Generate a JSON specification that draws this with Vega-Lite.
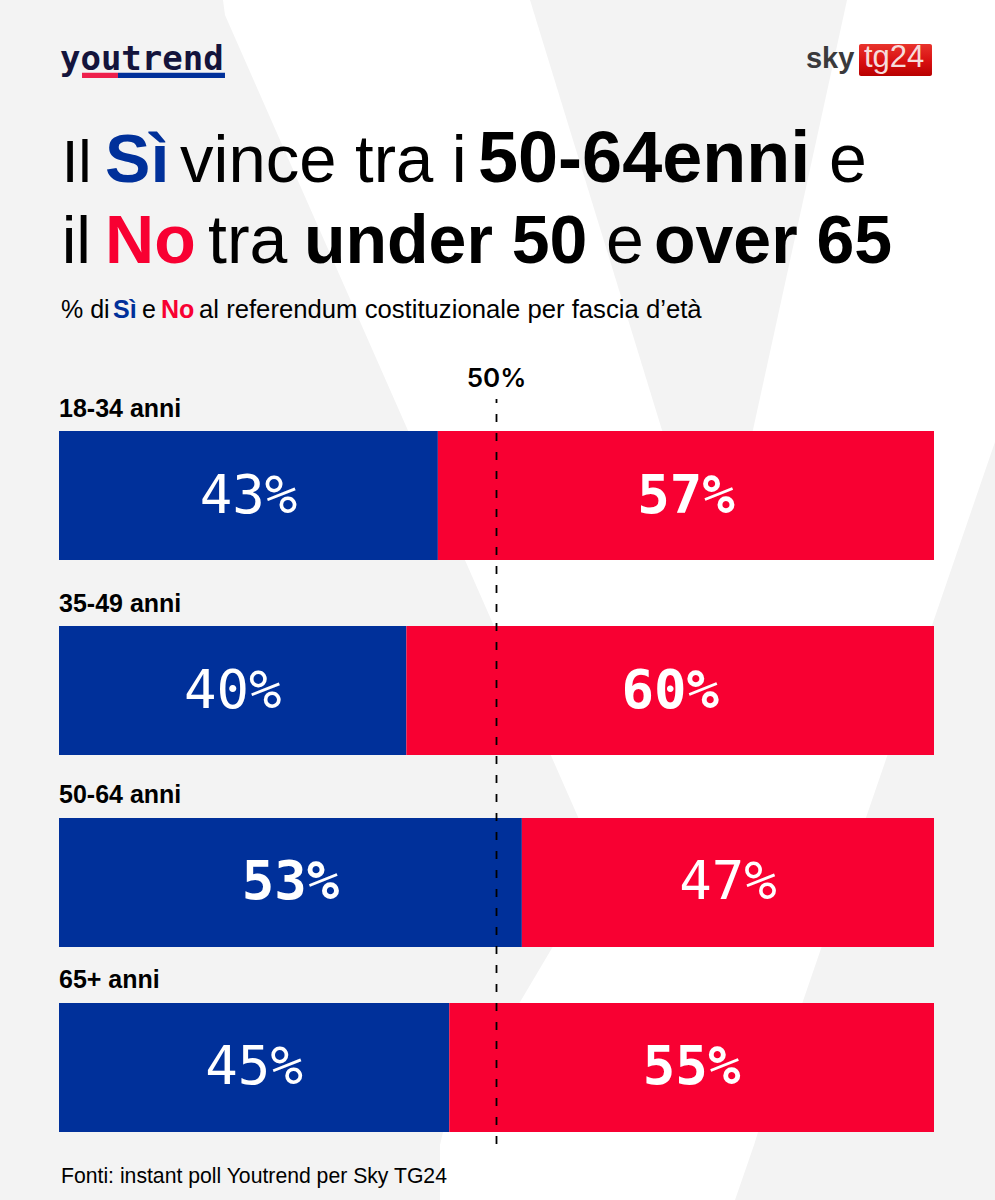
{
  "$schema": "https://vega.github.io/schema/vega-lite/v6.json",
  "description": "Il Si vince tra i 50-64enni e il No tra under 50 e over 65",
  "width": 995,
  "height": 1200,
  "autosize": {"type": "fit", "contains": "padding"},
  "padding": 0,
  "background": "#f3f3f3",
  "config": {"view": {"stroke": null}, "axis": {"disable": true}, "text": {"baseline": "alphabetic"}},
  "params": [
    {"name": "scarto", "expr": "{'18-34 anni': -1.7, '35-49 anni': 2.1, '50-64 anni': 2.9, '65+ anni': -3.3}"}
  ],
  "resolve": {"scale": {"y": "independent"}},
  "layer": [
    {
      "layer": [
        {
          "data": {"values": [
            {"y": 0, "da": 18.74, "a": 106.97},
            {"y": 15, "da": 18.97, "a": 106.97},
            {"y": 442, "da": 40.46, "a": 106.97},
            {"y": 867, "da": 61.83, "a": 90.29},
            {"y": 1132, "da": 43.89, "a": 79.89},
            {"y": 1145, "da": 43.54, "a": 79.43},
            {"y": 1200, "da": 43.54, "a": 77.26}
          ]},
          "mark": {"type": "area", "orient": "horizontal", "color": "#ffffff"},
          "encoding": {
            "x": {"field": "da", "type": "quantitative", "scale": {"domain": [0, 100], "range": [59, 934]}},
            "x2": {"field": "a"},
            "y": {"field": "y", "type": "quantitative", "scale": {"domain": [0, 1200], "range": [0, 1200]}}
          }
        },
        {
          "data": {"values": [
            {"y": 0, "da": 53.83, "a": 90.06},
            {"y": 430, "da": 68.91, "a": 79.31},
            {"y": 555, "da": 74.9, "a": 74.9}
          ]},
          "mark": {"type": "area", "orient": "horizontal", "color": "#f3f3f3"},
          "encoding": {
            "x": {"field": "da", "type": "quantitative"},
            "x2": {"field": "a"},
            "y": {"field": "y", "type": "quantitative"}
          }
        }
      ]
    },
    {
      "data": {"values": [
        {"fascia": "18-34 anni", "risposta": "Sì", "valore": 43.3, "etichetta": "43%"},
        {"fascia": "18-34 anni", "risposta": "No", "valore": 56.7, "etichetta": "57%"},
        {"fascia": "35-49 anni", "risposta": "Sì", "valore": 39.7, "etichetta": "40%"},
        {"fascia": "35-49 anni", "risposta": "No", "valore": 60.3, "etichetta": "60%"},
        {"fascia": "50-64 anni", "risposta": "Sì", "valore": 52.9, "etichetta": "53%"},
        {"fascia": "50-64 anni", "risposta": "No", "valore": 47.1, "etichetta": "47%"},
        {"fascia": "65+ anni", "risposta": "Sì", "valore": 44.6, "etichetta": "45%"},
        {"fascia": "65+ anni", "risposta": "No", "valore": 55.4, "etichetta": "55%"}
      ]},
      "transform": [
        {"stack": "valore", "groupby": ["fascia"], "sort": [{"field": "risposta", "order": "descending"}], "as": ["inizio", "fine"]},
        {"calculate": "(datum.inizio + datum.fine) / 2", "as": "centro"}
      ],
      "layer": [
        {
          "mark": {"type": "bar", "yOffset": {"expr": "scarto[datum.fascia]"}},
          "encoding": {
            "x": {"field": "inizio", "type": "quantitative"},
            "x2": {"field": "fine"},
            "y": {
              "field": "fascia",
              "type": "nominal",
              "sort": null,
              "scale": {"range": [432.7, 1135.3], "paddingInner": 0.325, "paddingOuter": 0}
            },
            "color": {
              "field": "risposta",
              "type": "nominal",
              "legend": null,
              "scale": {"domain": ["Sì", "No"], "range": ["#00309a", "#f80032"]}
            }
          }
        },
        {
          "transform": [{"filter": "datum.valore <= 50"}],
          "mark": {
            "type": "text",
            "font": "DejaVu Sans Mono",
            "fontSize": 54,
            "color": "#ffffff",
            "align": "center",
            "baseline": "middle",
            "dy": 1,
            "yOffset": {"expr": "scarto[datum.fascia]"}
          },
          "encoding": {
            "x": {"field": "centro", "type": "quantitative"},
            "y": {"field": "fascia", "type": "nominal", "sort": null},
            "text": {"field": "etichetta"}
          }
        },
        {
          "transform": [{"filter": "datum.valore > 50"}],
          "mark": {
            "type": "text",
            "font": "DejaVu Sans Mono",
            "fontWeight": "bold",
            "fontSize": 54,
            "color": "#ffffff",
            "align": "center",
            "baseline": "middle",
            "dy": 1,
            "yOffset": {"expr": "scarto[datum.fascia]"}
          },
          "encoding": {
            "x": {"field": "centro", "type": "quantitative"},
            "y": {"field": "fascia", "type": "nominal", "sort": null},
            "text": {"field": "etichetta"}
          }
        },
        {
          "transform": [{"filter": "datum.risposta === 'Sì'"}],
          "mark": {
            "type": "text",
            "font": "Liberation Sans",
            "fontWeight": "bold",
            "fontSize": 25,
            "color": "#000000",
            "align": "left",
            "baseline": "middle",
            "dy": -87,
            "yOffset": {"expr": "scarto[datum.fascia]"}
          },
          "encoding": {
            "x": {"datum": 0},
            "y": {"field": "fascia", "type": "nominal", "sort": null},
            "text": {"field": "fascia"}
          }
        }
      ]
    },
    {
      "layer": [
        {
          "data": {"values": [{"soglia": 50}]},
          "mark": {"type": "rule", "color": "#000000", "strokeWidth": 1.8, "strokeDash": [8, 11], "strokeDashOffset": 4},
          "encoding": {
            "x": {"field": "soglia", "type": "quantitative"},
            "y": {"datum": 399, "scale": {"domain": [0, 1200], "range": [0, 1200]}},
            "y2": {"datum": 1149}
          }
        },
        {
          "data": {"values": [{"testo": "50%"}]},
          "mark": {"type": "text", "font": "Inter", "fontWeight": 600, "fontSize": 26, "color": "#000000", "align": "center"},
          "encoding": {"x": {"datum": 50}, "y": {"datum": 387}, "text": {"field": "testo"}}
        },
        {
          "data": {"values": [{"testo": "youtrend"}]},
          "mark": {"type": "text", "font": "DejaVu Sans Mono", "fontWeight": "bold", "fontSize": 34, "color": "#14143c", "align": "left"},
          "encoding": {"x": {"datum": 0.11}, "y": {"datum": 70}, "text": {"field": "testo"}}
        },
        {
          "data": {"values": [{"parte": "rosso"}]},
          "mark": {"type": "rect", "color": "#ee1f4b"},
          "encoding": {"x": {"datum": 2.63}, "x2": {"datum": 6.74}, "y": {"datum": 72.7}, "y2": {"datum": 78}}
        },
        {
          "data": {"values": [{"parte": "blu"}]},
          "mark": {"type": "rect", "color": "#00309a"},
          "encoding": {"x": {"datum": 6.74}, "x2": {"datum": 18.97}, "y": {"datum": 72.7}, "y2": {"datum": 78}}
        },
        {
          "data": {"values": [{"testo": "sky"}]},
          "mark": {"type": "text", "font": "Liberation Sans", "fontWeight": "bold", "fontSize": 29, "color": "#3a3a3c", "align": "left"},
          "encoding": {"x": {"datum": 85.37}, "y": {"datum": 68}, "text": {"field": "testo"}}
        },
        {
          "data": {"values": [{"parte": "riquadro"}]},
          "mark": {
            "type": "rect",
            "cornerRadius": 2,
            "fill": {
              "gradient": "linear", "x1": 0, "y1": 0, "x2": 0, "y2": 1,
              "stops": [{"offset": 0, "color": "#e8332c"}, {"offset": 0.55, "color": "#d80f10"}, {"offset": 1, "color": "#b80000"}]
            }
          },
          "encoding": {"x": {"datum": 91.43}, "x2": {"datum": 99.77}, "y": {"datum": 44}, "y2": {"datum": 76}}
        },
        {
          "data": {"values": [{"testo": "tg24"}]},
          "mark": {"type": "text", "font": "Liberation Sans", "fontSize": 31, "color": "#f6dcdc", "align": "left"},
          "encoding": {"x": {"datum": 92}, "y": {"datum": 67}, "text": {"field": "testo"}}
        },
        {
          "data": {"values": [{"testo": "Il"}]},
          "mark": {"type": "text", "font": "Liberation Sans", "fontSize": 60, "color": "#000000", "align": "left"},
          "encoding": {"x": {"datum": 0.3}, "y": {"datum": 182}, "text": {"field": "testo"}}
        },
        {
          "data": {"values": [{"testo": "Sì"}]},
          "mark": {"type": "text", "font": "Liberation Sans", "fontWeight": "bold", "fontSize": 68, "color": "#00309a", "align": "left"},
          "encoding": {"x": {"datum": 5.26}, "y": {"datum": 182}, "text": {"field": "testo"}}
        },
        {
          "data": {"values": [{"testo": "vince tra i"}]},
          "mark": {"type": "text", "font": "Liberation Sans", "fontSize": 67, "color": "#000000", "align": "left"},
          "encoding": {"x": {"datum": 13.83}, "y": {"datum": 182}, "text": {"field": "testo"}}
        },
        {
          "data": {"values": [{"testo": "50-64enni"}]},
          "mark": {"type": "text", "font": "Liberation Sans", "fontWeight": "bold", "fontSize": 72, "color": "#000000", "align": "left"},
          "encoding": {"x": {"datum": 47.89}, "y": {"datum": 182}, "text": {"field": "testo"}}
        },
        {
          "data": {"values": [{"testo": "e"}]},
          "mark": {"type": "text", "font": "Liberation Sans", "fontSize": 68, "color": "#000000", "align": "left"},
          "encoding": {"x": {"datum": 88}, "y": {"datum": 182}, "text": {"field": "testo"}}
        },
        {
          "data": {"values": [{"testo": "il"}]},
          "mark": {"type": "text", "font": "Liberation Sans", "fontSize": 66, "color": "#000000", "align": "left"},
          "encoding": {"x": {"datum": 0.3}, "y": {"datum": 263}, "text": {"field": "testo"}}
        },
        {
          "data": {"values": [{"testo": "No"}]},
          "mark": {"type": "text", "font": "Liberation Sans", "fontWeight": "bold", "fontSize": 68, "color": "#f80032", "align": "left"},
          "encoding": {"x": {"datum": 5.26}, "y": {"datum": 263}, "text": {"field": "testo"}}
        },
        {
          "data": {"values": [{"testo": "tra"}]},
          "mark": {"type": "text", "font": "Liberation Sans", "fontSize": 68, "color": "#000000", "align": "left"},
          "encoding": {"x": {"datum": 17.03}, "y": {"datum": 263}, "text": {"field": "testo"}}
        },
        {
          "data": {"values": [{"testo": "under 50"}]},
          "mark": {"type": "text", "font": "Liberation Sans", "fontWeight": "bold", "fontSize": 68, "color": "#000000", "align": "left"},
          "encoding": {"x": {"datum": 28}, "y": {"datum": 263}, "text": {"field": "testo"}}
        },
        {
          "data": {"values": [{"testo": "e"}]},
          "mark": {"type": "text", "font": "Liberation Sans", "fontSize": 68, "color": "#000000", "align": "left"},
          "encoding": {"x": {"datum": 62.51}, "y": {"datum": 263}, "text": {"field": "testo"}}
        },
        {
          "data": {"values": [{"testo": "over 65"}]},
          "mark": {"type": "text", "font": "Liberation Sans", "fontWeight": "bold", "fontSize": 68, "color": "#000000", "align": "left"},
          "encoding": {"x": {"datum": 68}, "y": {"datum": 263}, "text": {"field": "testo"}}
        },
        {
          "data": {"values": [{"testo": "% di"}]},
          "mark": {"type": "text", "font": "Liberation Sans", "fontSize": 25, "color": "#000000", "align": "left"},
          "encoding": {"x": {"datum": 0.23}, "y": {"datum": 318}, "text": {"field": "testo"}}
        },
        {
          "data": {"values": [{"testo": "Sì"}]},
          "mark": {"type": "text", "font": "Liberation Sans", "fontWeight": "bold", "fontSize": 25, "color": "#00309a", "align": "left"},
          "encoding": {"x": {"datum": 6.17}, "y": {"datum": 318}, "text": {"field": "testo"}}
        },
        {
          "data": {"values": [{"testo": "e"}]},
          "mark": {"type": "text", "font": "Liberation Sans", "fontSize": 25, "color": "#000000", "align": "left"},
          "encoding": {"x": {"datum": 9.49}, "y": {"datum": 318}, "text": {"field": "testo"}}
        },
        {
          "data": {"values": [{"testo": "No"}]},
          "mark": {"type": "text", "font": "Liberation Sans", "fontWeight": "bold", "fontSize": 25, "color": "#f80032", "align": "left"},
          "encoding": {"x": {"datum": 11.66}, "y": {"datum": 318}, "text": {"field": "testo"}}
        },
        {
          "data": {"values": [{"testo": "al referendum costituzionale per fascia d’età"}]},
          "mark": {"type": "text", "font": "Liberation Sans", "fontSize": 25.7, "color": "#000000", "align": "left"},
          "encoding": {"x": {"datum": 16}, "y": {"datum": 318}, "text": {"field": "testo"}}
        },
        {
          "data": {"values": [{"testo": "Fonti: instant poll Youtrend per Sky TG24"}]},
          "mark": {"type": "text", "font": "Liberation Sans", "fontSize": 21.2, "color": "#000000", "align": "left"},
          "encoding": {"x": {"datum": 0.23}, "y": {"datum": 1183}, "text": {"field": "testo"}}
        }
      ]
    }
  ]
}
